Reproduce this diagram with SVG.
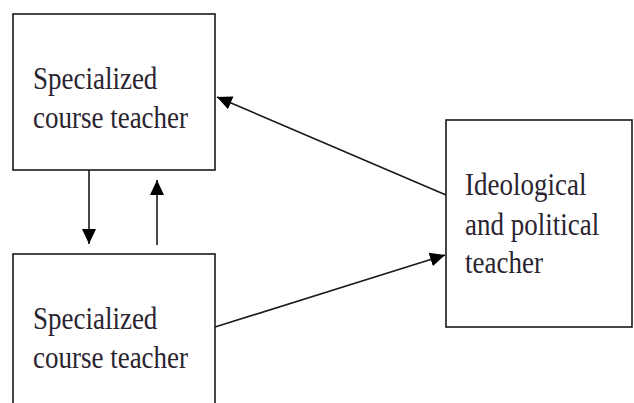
<svg xmlns="http://www.w3.org/2000/svg" width="634" height="403" viewBox="0 0 634 403">
<style>
.box{fill:#fff;stroke:#1a1a1a;stroke-width:1.6}
.t{font-family:"Liberation Serif","Times New Roman",serif;font-size:27px;fill:#2a2430}
.c{stroke:#1a1a1a;stroke-width:1.6;fill:none;marker-end:url(#ah)}
</style>
<defs>
<marker id="ah" markerUnits="userSpaceOnUse" markerWidth="16" markerHeight="16" viewBox="0 0 16 16" refX="15" refY="8" orient="auto">
<path d="M0,1 L15,8 L0,15 Z" fill="#000"/>
</marker>
</defs>
<rect width="634" height="403" fill="#fff"/>
<g id="node-top">
<rect class="box" x="13" y="14" width="202" height="156"/>
<text class="t" transform="translate(33,89) scale(1,1.15)">Specialized</text>
<text class="t" transform="translate(33,128) scale(1,1.15)">course teacher</text>
</g>
<g id="node-bottom">
<rect class="box" x="13" y="254" width="202" height="170"/>
<text class="t" transform="translate(33,329) scale(1,1.15)">Specialized</text>
<text class="t" transform="translate(33,368) scale(1,1.15)">course teacher</text>
</g>
<g id="node-right">
<rect class="box" x="446" y="120" width="186" height="207"/>
<text class="t" transform="translate(465,195) scale(1,1.15)">Ideological</text>
<text class="t" transform="translate(465,235) scale(1,1.15)">and political</text>
<text class="t" transform="translate(465,273) scale(1,1.15)">teacher</text>
</g>
<g id="connectors">
<line class="c" x1="89" y1="170" x2="89" y2="244"/>
<line class="c" x1="157" y1="245" x2="157" y2="180"/>
<line class="c" x1="446" y1="195" x2="217" y2="97"/>
<line class="c" x1="215" y1="327" x2="445" y2="255"/>
</g>
</svg>
